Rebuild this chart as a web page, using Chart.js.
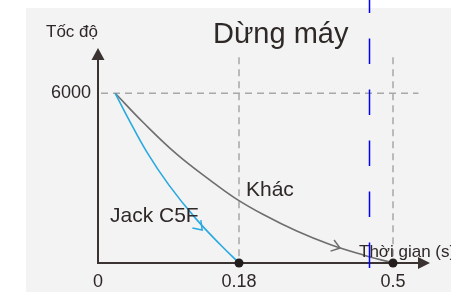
<!DOCTYPE html>
<html>
<head>
<meta charset="utf-8">
<script src="https://cdn.jsdelivr.net/npm/chart.js@4.4.0/dist/chart.umd.min.js"></script>
<style>
html, body { margin: 0; padding: 0; background: #fff; }
</style>
</head>
<body>
<canvas id="chart" width="451" height="292"></canvas>
<script>
// data
const jackTime = [0.022, 0.0387, 0.0622, 0.0906, 0.1246, 0.1566, 0.18];
const jackSpeed = [6000, 5107, 3929, 2753, 1577, 635, 0];
const otherTime = [0.022, 0.0578, 0.1005, 0.143, 0.1749, 0.2305, 0.2999, 0.3691, 0.4383, 0.5];
const otherSpeed = [6000, 4966, 3847, 2929, 2294, 1712, 1129, 653, 282, 0];
const seriesNames = ['Jack C5F', 'Khác'];
const xTicks = [0, 0.18, 0.5];
const xTickLabels = ['0', '0.18', '0.5'];
const yTicks = [6000];
const stopTimes = [0.18, 0.5];
const markerTime = 0.45;   // blue dashed marker
const jackArrow = [0.133, 1165];
const otherArrow = [0.39, 530];
const titleText = 'Dừng máy';
const yTitle = 'Tốc độ';
const xTitle = 'Thời gian (s)';

const textColor = '#2e2826';
const axisColor = '#3a3331';
const fontFamily = '"Liberation Sans", Arial, sans-serif';

// schematic x axis: the time axis is not drawn to scale, so stretch it piecewise
const warpVals = [0, 0.18, 0.5, 0.58];
const warpFrac = [0, 0.4247, 0.8886, 1];
function interp(v, from, to) {
	for (let i = 1; i < from.length; i++) {
		if (v <= from[i] || i === from.length - 1) {
			return to[i - 1] + (v - from[i - 1]) / (from[i] - from[i - 1]) * (to[i] - to[i - 1]);
		}
	}
}
class WarpScale extends Chart.LinearScale {
	getPixelForValue(v) { return this.getPixelForDecimal(interp(v, warpVals, warpFrac)); }
	getValueForPixel(p) { return interp(this.getDecimalForPixel(p), warpFrac, warpVals); }
}
WarpScale.id = 'warp';
WarpScale.defaults = Chart.LinearScale.defaults;
Chart.register(WarpScale);

function chevron(ctx, px, py, angle, color) {
	const len = 10, spread = 0.62;
	ctx.strokeStyle = color;
	ctx.lineWidth = 1.5;
	ctx.beginPath();
	ctx.moveTo(px - len * Math.cos(angle - spread), py - len * Math.sin(angle - spread));
	ctx.lineTo(px, py);
	ctx.lineTo(px - len * Math.cos(angle + spread), py - len * Math.sin(angle + spread));
	ctx.stroke();
}

// direction of the drawn line at a given pixel x
function dirAt(meta, px) {
	const pts = meta.data;
	for (let i = 1; i < pts.length; i++) {
		if (px <= pts[i].x) return Math.atan2(pts[i].y - pts[i - 1].y, pts[i].x - pts[i - 1].x);
	}
	return 0;
}

const drawings = {
	id: 'drawings',
	beforeDraw(chart) {
		const ctx = chart.ctx;
		ctx.save();
		ctx.fillStyle = '#f3f3f3';
		ctx.fillRect(26, 8, chart.width - 26, chart.height - 8);
		ctx.restore();
	},
	beforeDatasetsDraw(chart) {
		const { ctx, scales: { x, y } } = chart;
		ctx.save();
		ctx.strokeStyle = '#a8a8a8';
		ctx.lineWidth = 1.5;
		ctx.setLineDash([7, 5]);
		ctx.beginPath();
		ctx.moveTo(x.getPixelForValue(0) + 3, y.getPixelForValue(yTicks[0]));
		ctx.lineTo(x.getPixelForValue(0.555), y.getPixelForValue(yTicks[0]));
		stopTimes.forEach(t => {
			ctx.moveTo(x.getPixelForValue(t), y.getPixelForValue(7270));
			ctx.lineTo(x.getPixelForValue(t), y.getPixelForValue(0));
		});
		ctx.stroke();
		ctx.restore();
	},
	afterDatasetsDraw(chart) {
		const { ctx, scales: { x, y } } = chart;
		const x0 = x.getPixelForValue(0), y0 = y.getPixelForValue(0);
		const top = chart.chartArea.top, right = chart.chartArea.right;
		ctx.save();

		// axes with arrow heads
		ctx.strokeStyle = axisColor;
		ctx.fillStyle = axisColor;
		ctx.lineWidth = 2;
		ctx.beginPath();
		ctx.moveTo(x0, top + 10);
		ctx.lineTo(x0, y0);
		ctx.lineTo(right - 10, y0);
		ctx.stroke();
		ctx.beginPath();
		ctx.moveTo(x0, top);
		ctx.lineTo(x0 - 6.5, top + 12);
		ctx.lineTo(x0 + 6.5, top + 12);
		ctx.closePath();
		ctx.fill();
		ctx.beginPath();
		ctx.moveTo(right, y0);
		ctx.lineTo(right - 12, y0 - 6);
		ctx.lineTo(right - 12, y0 + 6);
		ctx.closePath();
		ctx.fill();

		// stop points
		ctx.fillStyle = '#231e1c';
		stopTimes.forEach(t => {
			ctx.beginPath();
			ctx.arc(x.getPixelForValue(t), y0, 4.5, 0, Math.PI * 2);
			ctx.fill();
		});

		// arrows along the curves
		[jackArrow, otherArrow].forEach((a, i) => {
			const px = x.getPixelForValue(a[0]), py = y.getPixelForValue(a[1]);
			chevron(ctx, px, py, dirAt(chart.getDatasetMeta(i), px), chart.data.datasets[i].borderColor);
		});

		// texts
		ctx.fillStyle = textColor;
		ctx.textBaseline = 'alphabetic';
		ctx.textAlign = 'left';
		ctx.font = '29px ' + fontFamily;
		ctx.fillText(titleText, 213, 43);
		ctx.font = '17px ' + fontFamily;
		ctx.fillText(yTitle, 46, 37);
		ctx.fillText(xTitle, 359, 257);
		ctx.font = '21px ' + fontFamily;
		ctx.fillText(seriesNames[1], 246, 196);
		ctx.fillText(seriesNames[0], 110, 222);

		// blue dashed marker over everything
		const mx = Math.round(x.getPixelForValue(markerTime)) + 0.5;
		ctx.strokeStyle = '#0000ff';
		ctx.lineWidth = 1.5;
		ctx.setLineDash([25.5, 25.5]);
		ctx.lineDashOffset = 12.5;
		ctx.beginPath();
		ctx.moveTo(mx, 0);
		ctx.lineTo(mx, chart.height);
		ctx.stroke();
		ctx.restore();
	}
};

new Chart(document.getElementById('chart'), {
	type: 'line',
	data: {
		datasets: [
			{
				label: seriesNames[0],
				data: jackTime.map((t, i) => ({ x: t, y: jackSpeed[i] })),
				borderColor: '#29aae1',
				borderWidth: 1.6,
				pointRadius: 0,
				tension: 0.4,
			},
			{
				label: seriesNames[1],
				data: otherTime.map((t, i) => ({ x: t, y: otherSpeed[i] })),
				borderColor: '#6e6e6e',
				borderWidth: 1.6,
				pointRadius: 0,
				tension: 0.4,
			}
		]
	},
	options: {
		responsive: false,
		animation: false,
		devicePixelRatio: 1,
		layout: { padding: { top: 48, right: 21, left: 0, bottom: 0 } },
		plugins: { legend: { display: false }, tooltip: { enabled: false } },
		scales: {
			x: {
				type: 'warp',
				min: 0,
				max: 0.58,
				grid: { display: false, drawTicks: false },
				border: { display: false },
				afterBuildTicks: scale => { scale.ticks = xTicks.map(v => ({ value: v })); },
				afterFit: scale => { scale.height = 29; },
				ticks: {
					padding: 8,
					color: textColor,
					font: { family: fontFamily, size: 18 },
					callback: (v, i) => xTickLabels[i],
				}
			},
			y: {
				min: 0,
				max: 7600,
				grid: { display: false, drawTicks: false },
				border: { display: false },
				afterBuildTicks: scale => { scale.ticks = yTicks.map(v => ({ value: v })); },
				afterFit: scale => { scale.width = 98; },
				ticks: {
					padding: 7,
					color: textColor,
					font: { family: fontFamily, size: 18 },
					callback: v => String(v),
				}
			}
		}
	},
	plugins: [drawings]
});
</script>
</body>
</html>
